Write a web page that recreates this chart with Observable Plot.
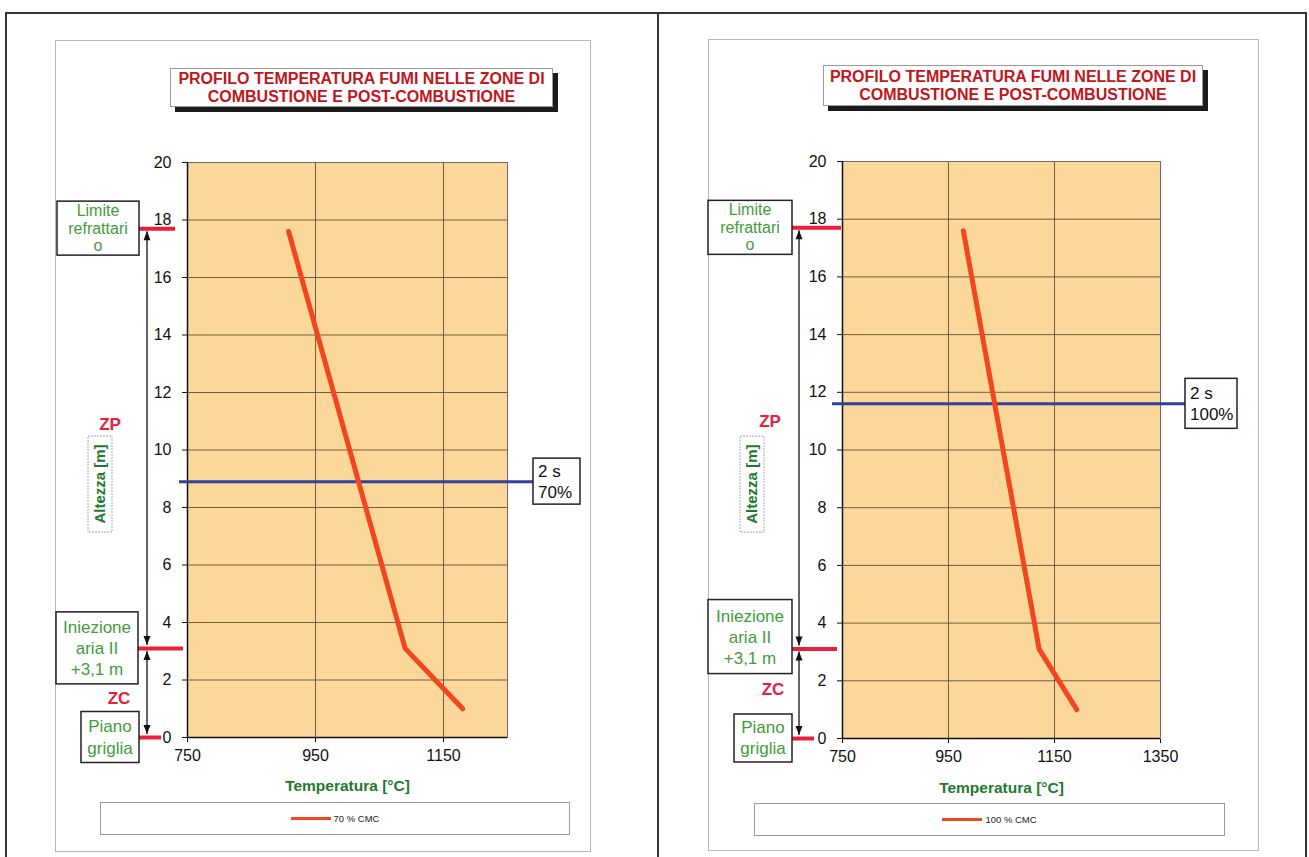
<!DOCTYPE html>
<html>
<head>
<meta charset="utf-8">
<script src="https://cdn.jsdelivr.net/npm/d3@7"></script>
<script src="https://cdn.jsdelivr.net/npm/@observablehq/plot@0.6"></script>
<style>
  body { margin: 0; background: #fff; }
  #page { position: relative; width: 1309px; height: 857px; overflow: hidden; background: #fff;
          font-family: "Liberation Sans", Arial, Helvetica, sans-serif; }
  .abs { position: absolute; }
  .line { position: absolute; background: #333; }
  .inner { position: absolute; border: 1px solid #b8b8b8; box-sizing: border-box; }
  .title { position: absolute; background: #fff; border: 1px solid #9a9a9a; box-sizing: border-box;
           box-shadow: 5px 5px 0 #1a1a1a; color: #c0161c; font-weight: bold; font-size: 16px;
           line-height: 18px; text-align: center; display: flex; align-items: center; justify-content: center; }
  .legend { position: absolute; border: 1px solid #9a9a9a; box-sizing: border-box; background: #fff;
            display: flex; align-items: center; justify-content: center; font-size: 9.5px; color: #222; }
  .legend .sw { display: inline-block; width: 40px; height: 3px; background: #f2461f; margin-right: 3px; }
</style>
</head>
<body>
<div id="page"></div>
<script>
// ---------------- DATA ----------------
const yTicks = [0, 2, 4, 6, 8, 10, 12, 14, 16, 18, 20];
const xTicksLeft = [750, 950, 1150];
const xTicksRight = [750, 950, 1150, 1350];

// 70 % CMC profile (temperature °C, height m)
const temp70 = [908, 1090, 1180];
const height70 = [17.6, 3.1, 1.0];
// 100 % CMC profile
const temp100 = [978, 1121, 1192];
const height100 = [17.6, 3.1, 1.0];

// reference levels along the furnace height
const levelHeights = [17.7, 3.1, 0];
const levelLabels = [["Limite", "refrattari", "o"], ["Iniezione", "aria II", "+3,1 m"], ["Piano", "griglia"]];
const zoneLabels = ["ZP", "ZC"];

// 2 s residence-time height
const residence70 = 8.9;
const residence100 = 11.6;
const residenceLabel70 = ["2 s", "70%"];
const residenceLabel100 = ["2 s", "100%"];

const titleLines = ["PROFILO TEMPERATURA FUMI NELLE ZONE DI", "COMBUSTIONE E POST-COMBUSTIONE"];
const xTitle = "Temperatura [°C]";
const yTitle = "Altezza [m]";
const seriesLabels = ["70 % CMC", "100 % CMC"];

// ---------------- STYLE ----------------
const FONT = '"Liberation Sans", Arial, Helvetica, sans-serif';
const PLOT_BG = "#fbd79a";
const GRID = "#5a4632";
const LINE_RED = "#f2461f";
const MARK_RED = "#e8203c";
const BLUE = "#353f9c";
const GREEN = "#3f9d3a";
const GREEN_D = "#1f7a2c";

const page = document.getElementById("page");

function div(cls, css, html) {
  const d = document.createElement("div");
  d.className = cls;
  Object.assign(d.style, css);
  if (html != null) d.innerHTML = html;
  page.appendChild(d);
  return d;
}

// outer panel frame lines
div("line", {left: "5px", top: "12px", width: "1302px", height: "1.5px"});
div("line", {left: "5px", top: "12px", width: "1.5px", height: "850px"});
div("line", {left: "657px", top: "12px", width: "1.5px", height: "850px"});
div("line", {left: "1305px", top: "12px", width: "1.5px", height: "850px"});
// inner chart-area frames
div("inner", {left: "55px", top: "40px", width: "536px", height: "812px"});
div("inner", {left: "708px", top: "39px", width: "551px", height: "812px"});

function panel(o) {
  const W = o.W, H = 857;
  const data = o.temps.map((t, i) => ({t, h: o.heights[i]}));
  const marks = [
    Plot.frame({fill: PLOT_BG, stroke: null}),
    Plot.ruleY(yTicks.filter(v => v > 0 && v < 20), {stroke: GRID, strokeWidth: 1, strokeOpacity: 0.85}),
    Plot.ruleX(o.xTicks.filter(v => v > o.xDomain[0] && v < o.xDomain[1]), {stroke: GRID, strokeWidth: 1, strokeOpacity: 0.85}),
    Plot.frame({stroke: "#6a6a6a", strokeWidth: 1}),
    Plot.ruleX([o.xDomain[0]], {stroke: "#111", strokeWidth: 1.5}),
    Plot.ruleY([0], {stroke: "#111", strokeWidth: 1.5}),
    Plot.ruleY([o.residence], {stroke: BLUE, strokeWidth: 3, insetLeft: o.blue[0] - o.fl, insetRight: o.fr - o.blue[1]}),
  ];
  levelHeights.forEach((v, i) => {
    const [a, b] = o.segs[i];
    marks.push(Plot.ruleY([v], {stroke: MARK_RED, strokeWidth: 4, insetLeft: a - o.fl, insetRight: o.fr - b}));
  });
  marks.push(
    Plot.line(data, {x: "t", y: "h", stroke: LINE_RED, strokeWidth: 5, strokeLinecap: "round", strokeLinejoin: "round"}),
    Plot.text([xTitle], {text: d => d, frameAnchor: "bottom", dy: o.xTitleDy, fill: GREEN_D, fontWeight: "bold", fontSize: 15.5})
  );

  const svg = Plot.plot({
    width: W, height: H,
    marginLeft: o.fl, marginRight: W - o.fr, marginTop: o.ft, marginBottom: H - o.fb,
    style: {fontFamily: FONT, fontSize: "16px", color: "#111", background: "transparent", overflow: "visible"},
    x: {domain: o.xDomain, ticks: o.xTicks, tickSize: 5, tickPadding: 7, label: null, tickFormat: d => String(d)},
    y: {domain: [0, 20], ticks: yTicks, tickSize: 5, tickPadding: 11, label: null},
    marks
  });
  // make axis tick labels the size of the original
  d3.select(svg).selectAll('g[aria-label$="axis"], g[aria-label$="tick label"]').attr("font-size", 16);

  const y = svg.scale("y");
  const g = d3.select(svg).append("g").attr("font-family", FONT).attr("text-anchor", "start");

  function multi(cx, cy, lines, lh, attrs) {
    const t = g.append("text").attr("text-anchor", "middle");
    Object.entries(attrs).forEach(([k, v]) => t.attr(k, v));
    lines.forEach((s, i) => {
      t.append("tspan").attr("x", cx).attr("y", cy + (i - (lines.length - 1) / 2) * lh)
        .attr("dy", "0.35em").text(s);
    });
  }

  // level boxes
  levelHeights.forEach((v, i) => {
    const b = o.boxes[i];
    const cy = y.apply(v) + b.dy;
    g.append("rect").attr("x", b.x).attr("y", cy - b.h / 2).attr("width", b.w).attr("height", b.h)
      .attr("fill", "#fff").attr("stroke", "#222").attr("stroke-width", 1.5);
    multi(b.x + b.w / 2, cy, levelLabels[i], b.lh, {fill: GREEN, "font-size": b.fs});
  });

  // double arrows between levels
  const ax = o.arrowX;
  function head(yTip, dir) { // dir -1 up, +1 down
    const yb = yTip - dir * 9;
    g.append("path").attr("d", `M${ax},${yTip}L${ax - 3.5},${yb}L${ax + 3.5},${yb}Z`).attr("fill", "#111");
  }
  [[0, 1], [1, 2]].forEach(([i, j]) => {
    const ya = y.apply(levelHeights[i]) + 3, yb = y.apply(levelHeights[j]) - 3;
    g.append("line").attr("x1", ax).attr("x2", ax).attr("y1", ya).attr("y2", yb).attr("stroke", "#111").attr("stroke-width", 1.3);
    head(ya, -1);
    head(yb, 1);
  });

  // zone labels
  zoneLabels.forEach((z, i) => {
    g.append("text").attr("x", o.zones[i].x).attr("y", y.apply(o.zones[i].v)).attr("dy", "0.35em")
      .attr("text-anchor", "middle").attr("fill", MARK_RED).attr("font-weight", "bold").attr("font-size", 17).text(z);
  });

  // y axis title in dashed box
  const ay = y.apply(o.yTitleV);
  g.append("rect").attr("x", o.yTitleX - 12).attr("y", ay - 48).attr("width", 24).attr("height", 96)
    .attr("fill", "#fff").attr("stroke", "#aaa").attr("stroke-dasharray", "2,1");
  g.append("text").attr("transform", `translate(${o.yTitleX},${ay}) rotate(-90)`).attr("dy", "0.35em")
    .attr("text-anchor", "middle").attr("fill", GREEN_D).attr("font-weight", "bold").attr("font-size", 15).text(yTitle);

  // residence-time label box
  const ry = y.apply(o.residence);
  g.append("rect").attr("x", o.resBox.x).attr("y", ry - o.resBox.h / 2).attr("width", o.resBox.w).attr("height", o.resBox.h)
    .attr("fill", "#fff").attr("stroke", "#222").attr("stroke-width", 1.5);
  const rt = g.append("text").attr("fill", "#111").attr("font-size", 17).attr("text-anchor", "start");
  o.resLabel.forEach((s, i) => {
    rt.append("tspan").attr("x", o.resBox.x + 5).attr("y", ry + (i - 0.5) * 21).attr("dy", "0.35em").text(s);
  });

  const holder = div("abs", {left: o.x0 + "px", top: "0px", width: W + "px", height: H + "px"});
  holder.appendChild(svg);

  // title box
  div("title", {left: (o.x0 + o.title.x) + "px", top: o.title.y + "px", width: o.title.w + "px", height: o.title.h + "px"},
      titleLines.join("<br>"));
  // legend box
  div("legend", {left: (o.x0 + o.legend.x) + "px", top: o.legend.y + "px", width: o.legend.w + "px", height: o.legend.h + "px"},
      `<span class="sw"></span><span>${o.series}</span>`);
}

panel({
  x0: 0, W: 655, fl: 187, fr: 507, ft: 162, fb: 737,
  xDomain: [750, 1250], xTicks: xTicksLeft,
  temps: temp70, heights: height70,
  residence: residence70, resLabel: residenceLabel70,
  blue: [179, 533], resBox: {x: 533, w: 47, h: 46},
  boxes: [{x: 57, w: 82, h: 54, dy: 0, lh: 17.5, fs: 16}, {x: 56, w: 82, h: 72, dy: 0, lh: 21, fs: 17}, {x: 81, w: 58, h: 51, dy: 0, lh: 22, fs: 17}],
  segs: [[139, 175], [138, 183], [139, 161]],
  arrowX: 147,
  zones: [{x: 110, v: 10.9}, {x: 119, v: 1.36}],
  yTitleX: 100, yTitleV: 8.8,
  xTitleDy: 53,
  title: {x: 170, y: 68, w: 383, h: 39},
  legend: {x: 100, y: 802, w: 470, h: 33},
  series: seriesLabels[0]
});

panel({
  x0: 657, W: 652, fl: 185, fr: 503, ft: 161, fb: 738,
  xDomain: [750, 1350], xTicks: xTicksRight,
  temps: temp100, heights: height100,
  residence: residence100, resLabel: residenceLabel100,
  blue: [175, 528], resBox: {x: 528, w: 52, h: 50},
  boxes: [{x: 51, w: 84, h: 54, dy: 0, lh: 17.5, fs: 16}, {x: 51, w: 84, h: 74, dy: -12, lh: 21, fs: 17}, {x: 77, w: 58, h: 48, dy: 0, lh: 21, fs: 17}],
  segs: [[135, 184], [135, 180], [135, 157]],
  arrowX: 142,
  zones: [{x: 113, v: 11.0}, {x: 116, v: 1.7}],
  yTitleX: 95, yTitleV: 8.8,
  xTitleDy: 54,
  title: {x: 166, y: 65, w: 380, h: 41},
  legend: {x: 97, y: 803, w: 471, h: 33},
  series: seriesLabels[1]
});
</script>
</body>
</html>
